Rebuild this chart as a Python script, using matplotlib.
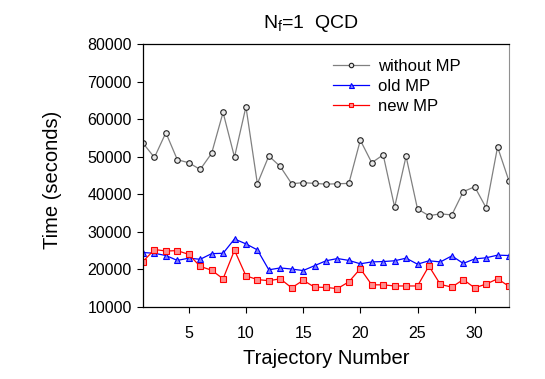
import numpy as np
import matplotlib
matplotlib.use("Agg")
import matplotlib.pyplot as plt

plt.rcParams['font.family'] = ['Liberation Sans', 'DejaVu Sans']
plt.rcParams['mathtext.fontset'] = 'custom'
plt.rcParams['mathtext.rm'] = 'Liberation Sans'
plt.rcParams['mathtext.it'] = 'Liberation Sans'

traj = np.arange(1, 34)
without_mp = [53600, 49800, 56400, 49200, 48400, 46600, 50900, 61800, 49900, 63300,
              42800, 50200, 47400, 42800, 43100, 42900, 42700, 42800, 42900, 54400,
              48400, 50500, 36600, 50100, 36100, 34300, 34800, 34500, 40700, 42000,
              36400, 52600, 43500]
old_mp = [24500, 24300, 23700, 22400, 23000, 22700, 24200, 24300, 28100, 26800,
          25200, 19900, 20400, 20100, 19700, 21000, 22300, 22900, 22400, 21500,
          22000, 22100, 22300, 23000, 21400, 22300, 22000, 23600, 21600, 22800,
          23100, 23800, 23700]
new_mp = [22100, 25300, 24900, 25000, 24000, 20800, 19800, 17500, 25100, 18300,
          17300, 17000, 17500, 15100, 17100, 15300, 15200, 14900, 16700, 20200,
          15900, 15900, 15600, 15600, 15600, 20900, 16000, 15300, 17300, 15100,
          16100, 17500, 15500]

fig = plt.figure(figsize=(5.45, 3.79), dpi=100)
ax = fig.add_axes([143/545, 1-307/379, 366/545, 263/379])

ax.plot(traj, without_mp, color='#808080', lw=0.9, marker='o', ms=4,
        mfc='#e8e8e8', mec='#202020', mew=0.8, label='without MP')
ax.plot(traj, old_mp, color='#0000ff', lw=0.9, marker='^', ms=4.5,
        mfc='#8080ff', mec='#0000ff', mew=0.8, label='old MP')
ax.plot(traj, new_mp, color='#ff0000', lw=0.9, marker='s', ms=4,
        mfc='#ff9090', mec='#ff0000', mew=0.8, label='new MP')

ax.set_xlim(1, 33)
ax.set_ylim(10000, 80000)
ax.set_xticks([5, 10, 15, 20, 25, 30])
ax.set_yticks(np.arange(10000, 80001, 10000))
ax.tick_params(labelsize=11.5, length=4, width=0.8, direction='out', pad=4)
ax.tick_params(axis='x', pad=10)
ax.spines['right'].set_color('#909090')
for s in ['left', 'bottom', 'top']:
    ax.spines[s].set_linewidth(0.9)

fig.text(326/545, 1-358/379, 'Trajectory Number', fontsize=14.5, ha='center', va='center')
fig.text(53/545, 1-180/379, 'Time (seconds)', fontsize=14.5, rotation=90,
         ha='center', va='center')
fig.text(311/545, 1-23/379, r'N$_\mathrm{f}$=1  QCD', fontsize=14, ha='center', va='center')

ax.legend(loc='upper left', bbox_to_anchor=(0.5, 0.97), frameon=False,
          fontsize=12, handlelength=2.2, handletextpad=0.55, labelspacing=0.3,
          borderaxespad=0, markerscale=0.8)

fig.savefig('out.png', dpi=100)
